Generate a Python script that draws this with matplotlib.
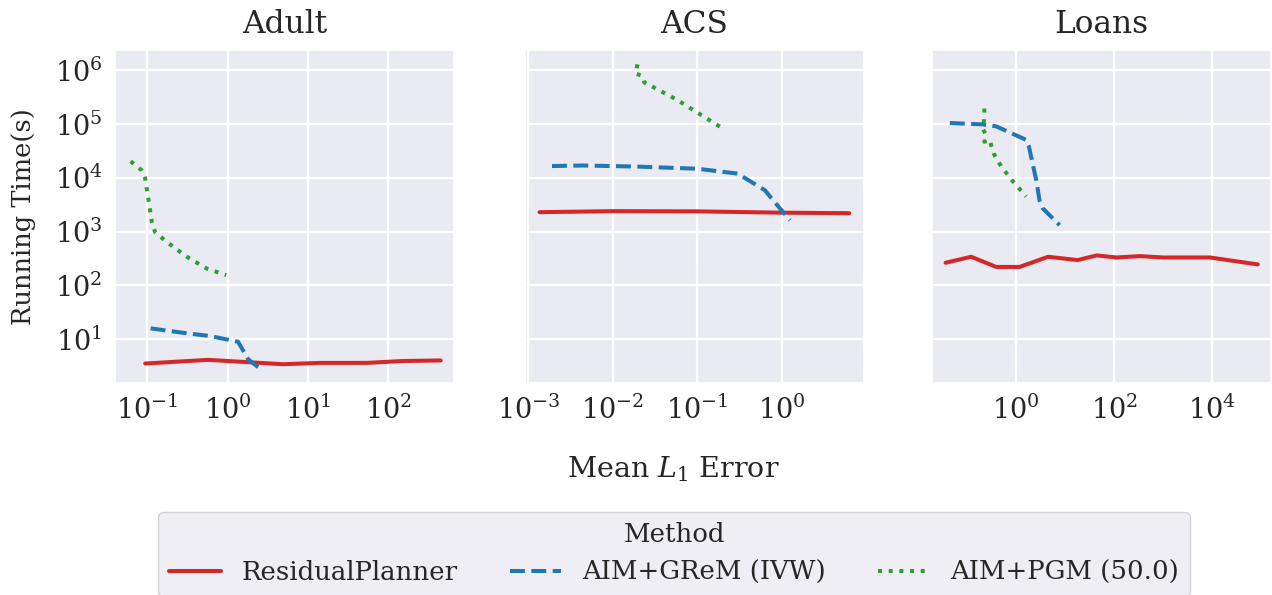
import matplotlib
matplotlib.use('Agg')
import matplotlib.pyplot as plt
import seaborn as sns

sns.set_theme(style='darkgrid')
plt.rcParams['font.family'] = ['DejaVu Serif']
plt.rcParams['mathtext.fontset'] = 'dejavuserif'

# 数据
datasets = ['Adult', 'ACS', 'Loans']
methods = ['ResidualPlanner', 'AIM+GReM (IVW)', 'AIM+PGM (50.0)']

adult_rp_x = [0.094, 0.57, 4.9, 14, 54, 150, 450]
adult_rp_y = [3.5, 4.1, 3.4, 3.6, 3.6, 3.9, 4.0]
adult_grem_x = [0.11, 0.31, 0.6, 1.35, 1.8, 2.4]
adult_grem_y = [15.8, 12.8, 11.4, 8.9, 4.2, 3.0]
adult_pgm_x = [0.062, 0.085, 0.094, 0.114, 0.125, 0.175, 0.31, 0.55, 0.96]
adult_pgm_y = [20400, 13800, 9800, 1500, 980, 640, 340, 205, 155]

acs_rp_x = [0.00135, 0.01, 0.1, 1.0, 6.3]
acs_rp_y = [2300, 2400, 2380, 2250, 2200]
acs_grem_x = [0.0019, 0.0045, 0.02, 0.1, 0.3, 0.63, 0.76, 1.25]
acs_grem_y = [16600, 17000, 16200, 14800, 12000, 5900, 4100, 1630]
acs_pgm_x = [0.0195, 0.0186, 0.022, 0.0235, 0.055, 0.2]
acs_pgm_y = [1.3e6, 870000, 800000, 600000, 295000, 83000]

loans_rp_x = [0.036, 0.12, 0.39, 1.17, 4.5, 18, 44, 112, 340, 1000, 9100, 87000]
loans_rp_y = [263, 340, 220, 220, 340, 295, 360, 330, 350, 330, 330, 245]
loans_grem_x = [0.044, 0.206, 0.39, 1.6, 1.8, 2.57, 3.0, 3.5, 7.7]
loans_grem_y = [105000, 99000, 91000, 51000, 40000, 9100, 3800, 2700, 1320]
loans_pgm_x = [0.224, 0.22, 0.207, 0.235, 0.224, 0.284, 0.35, 0.49, 0.79, 1.6]
loans_pgm_y = [195000, 118000, 83000, 66000, 47000, 51000, 28000, 16500, 9400, 4500]

colors = ['#d62728', '#1f77b4', '#2ca02c']
styles = ['-', '--', ':']

all_data = [
    [(adult_rp_x, adult_rp_y), (adult_grem_x, adult_grem_y), (adult_pgm_x, adult_pgm_y)],
    [(acs_rp_x, acs_rp_y), (acs_grem_x, acs_grem_y), (acs_pgm_x, acs_pgm_y)],
    [(loans_rp_x, loans_rp_y), (loans_grem_x, loans_grem_y), (loans_pgm_x, loans_pgm_y)],
]
xlims = [(0.0396, 658), (0.00091, 9.4), (0.019, 162000)]
ylim = (1.52, 2.4e6)

W, H = 1272, 595
fig = plt.figure(figsize=(W / 100, H / 100), dpi=100)
lefts = [115, 525, 932]
axes = []
for i in range(3):
    ax = fig.add_axes([lefts[i] / W, (H - 383) / H, 339 / W, 333 / H],
                      sharey=axes[0] if axes else None)
    axes.append(ax)

handles = []
for i, ax in enumerate(axes):
    for j, (x, y) in enumerate(all_data[i]):
        line, = ax.plot(x, y, color=colors[j], linestyle=styles[j], linewidth=2.9)
        if i == 0:
            handles.append(line)
    ax.set_xscale('log')
    ax.set_yscale('log')
    ax.set_xlim(*xlims[i])
    ax.set_ylim(*ylim)
    ax.set_title(datasets[i], fontsize=22.5, pad=12)
    ax.tick_params(labelsize=19.5, length=0, pad=9)
    ax.grid(True, which='major', color='white', linewidth=1.6)
    ax.grid(False, which='minor')
    if i > 0:
        ax.tick_params(labelleft=False)

axes[2].set_xticks([1, 100, 10000])

fig.text(673 / W, 1 - 477 / H, 'Mean $L_1$ Error', fontsize=20.5, ha='center', va='baseline')
fig.text(24 / W, 1 - 216.5 / H, 'Running Time(s)', fontsize=18.5, rotation=90, ha='center', va='center')

fig.legend(handles, methods, loc='upper center', bbox_to_anchor=(674 / W, 1 - 512 / H),
           borderaxespad=0, ncol=3, title='Method', fontsize=18.7, title_fontsize=18.7)

plt.savefig('out.png', dpi=100)
